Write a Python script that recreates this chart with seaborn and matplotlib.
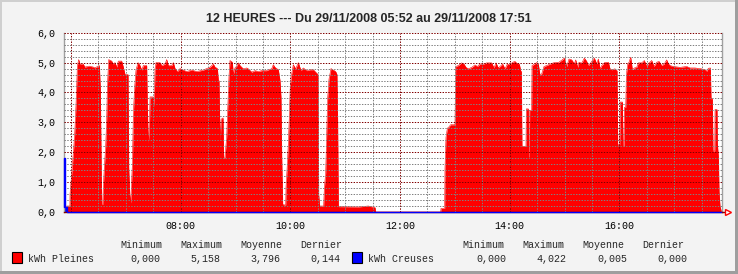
import numpy as np
import pandas as pd
import matplotlib
matplotlib.use("Agg")
import matplotlib.pyplot as plt
import seaborn as sns
from matplotlib.patches import Rectangle
from matplotlib.ticker import MultipleLocator, FixedLocator

# ---------------- data ----------------
title = "12 HEURES --- Du 29/11/2008 05:52 au 29/11/2008 17:51"
x_start, x_end = 5.872, 17.872   # hours of day

pleines_h = [
    5.872, 5.920, 5.921, 5.980, 5.982, 6.000, 6.018, 6.043, 6.067, 6.091, 6.116, 6.140, 6.164, 6.225,
    6.249, 6.334, 6.407, 6.432, 6.517, 6.535, 6.547, 6.559, 6.578, 6.590, 6.608, 6.632, 6.650, 6.663,
    6.687, 6.742, 6.772, 6.802, 6.833, 6.863, 6.924, 6.954, 6.985, 7.040, 7.052, 7.070, 7.088, 7.100,
    7.119, 7.137, 7.161, 7.185, 7.222, 7.258, 7.289, 7.319, 7.380, 7.392, 7.410, 7.429, 7.441, 7.502,
    7.514, 7.532, 7.550, 7.623, 7.653, 7.714, 7.745, 7.775, 7.836, 7.866, 7.897, 7.939, 7.988, 8.049,
    8.109, 8.201, 8.292, 8.413, 8.474, 8.535, 8.596, 8.626, 8.669, 8.687, 8.699, 8.711, 8.723, 8.736,
    8.772, 8.784, 8.802,
    8.808, 8.838, 8.857, 8.881, 8.899, 8.942, 8.960, 8.990, 9.021, 9.051, 9.082, 9.142, 9.203, 9.234,
    9.294, 9.355, 9.416, 9.477, 9.568, 9.598, 9.659, 9.689, 9.720, 9.781, 9.811, 9.829, 9.841, 9.860,
    9.915, 9.921, 9.939, 9.963, 9.981, 9.999, 10.024, 10.054, 10.097, 10.145, 10.194, 10.237, 10.297,
    10.358, 10.419, 10.461, 10.492, 10.504, 10.516, 10.534, 10.607, 10.620, 10.644, 10.662, 10.680,
    10.705, 10.741, 10.784, 10.826, 10.850, 10.863, 10.875, 11.240, 11.422, 11.544, 11.556,
    12.741, 12.747, 12.814, 12.820, 12.838, 12.863, 12.893, 12.923, 13.002, 13.015, 13.063, 13.094,
    13.124, 13.167, 13.203, 13.246, 13.306, 13.367, 13.410, 13.458, 13.519, 13.580, 13.671, 13.714,
    13.750, 13.793, 13.823, 13.872, 13.914, 13.957, 14.005, 14.054, 14.097, 14.127, 14.176, 14.200,
    14.212, 14.224, 14.297, 14.303, 14.340, 14.346, 14.358, 14.364, 14.400, 14.407, 14.492, 14.522,
    14.553, 14.583, 14.626, 14.674, 14.735, 14.796, 14.857,
    14.888, 14.949, 14.997, 15.040, 15.082, 15.131, 15.180, 15.204, 15.240, 15.265, 15.313, 15.362,
    15.405, 15.435, 15.465, 15.496, 15.544, 15.587, 15.617, 15.648, 15.678, 15.739, 15.800, 15.830,
    15.860, 15.921, 15.952, 15.958, 15.970, 16.006, 16.018, 16.055, 16.067, 16.085, 16.091, 16.116,
    16.128, 16.152, 16.176, 16.207, 16.237, 16.274, 16.316, 16.347, 16.407, 16.456, 16.499, 16.541,
    16.590, 16.632, 16.681, 16.724, 16.772, 16.821, 16.863, 16.894, 16.924, 16.985, 17.107, 17.228,
    17.289, 17.380, 17.502, 17.563, 17.593, 17.623, 17.660, 17.672, 17.696, 17.708, 17.739, 17.745,
    17.781, 17.787, 17.806, 17.818, 17.836, 17.854, 17.860,
]
pleines_kwh = [
    0.0, 0.0, 0.2, 0.2, 0.6, 1.0, 1.4, 2.0, 2.6, 3.6, 4.9, 5.1, 4.95, 4.95,
    4.85, 4.88, 4.85, 4.82, 4.9, 4.1, 2.0, 0.25, 0.25, 0.9, 1.5, 2.2, 3.1, 4.2,
    5.1, 5.05, 4.95, 5.0, 4.85, 5.05, 5.05, 4.85, 4.6, 4.6, 1.5, 0.6, 0.3, 0.8,
    1.6, 3.3, 4.2, 4.75, 5.0, 4.9, 4.75, 4.9, 4.9, 3.5, 2.3, 2.8, 3.85, 3.85,
    3.5, 4.8, 5.0, 5.0, 4.9, 4.95, 5.1, 4.9, 4.9, 5.0, 4.8, 4.7, 4.8, 4.75,
    4.7, 4.75, 4.7, 4.75, 4.8, 4.85, 4.95, 4.85, 4.8, 4.4, 4.4, 3.0, 2.4, 3.1,
    3.15, 1.8, 1.8,
    1.85, 2.5, 3.45, 4.55, 5.07, 5.01, 4.6, 4.82, 4.88, 4.99, 4.9, 4.79, 4.82, 4.79,
    4.68, 4.73, 4.7, 4.73, 4.73, 4.76, 4.79, 4.93, 4.84, 4.76, 4.4, 3.85, 2.0, 0.25,
    0.23, 0.84, 1.4, 2.29, 3.18, 4.23, 4.62, 4.93, 4.79, 5.0, 4.73, 4.82, 4.73,
    4.76, 4.76, 4.68, 4.62, 4.6, 0.6, 0.2, 0.2, 0.8, 1.3, 2.6, 3.8,
    4.45, 4.8, 4.75, 4.7, 4.6, 2.9, 0.18, 0.17, 0.2, 0.15, 0.0,
    0.0, 0.12, 0.12, 1.45, 2.5, 2.8, 2.85, 2.92, 2.92, 4.87, 4.9, 4.95,
    4.99, 4.95, 4.84, 4.79, 4.84, 4.92, 4.87, 4.95, 4.95, 4.99, 4.99, 4.82,
    4.99, 4.82, 4.87, 4.95, 4.79, 4.95, 4.93, 5.01, 5.04, 4.98, 4.95, 4.73,
    4.7, 2.2, 2.2, 3.45, 3.45, 1.85, 1.85, 3.4, 3.4, 4.9, 5.0, 4.95,
    4.57, 4.62, 4.87, 4.9, 4.95, 4.99, 5.01,
    5.0, 5.08, 5.15, 4.87, 5.12, 5.09, 4.96, 5.09, 4.84, 5.01, 4.98, 5.15,
    5.04, 4.9, 4.96, 5.04, 5.15, 4.96, 5.12, 4.79, 4.9, 5.01, 5.01, 4.79,
    4.76, 4.79, 4.73, 4.73, 2.25, 2.25, 3.68, 3.68, 2.2, 2.2, 3.5, 3.5,
    4.6, 4.95, 5.01, 5.18, 4.76, 4.82, 4.84, 4.99, 4.99, 5.07, 4.87, 4.99,
    5.07, 4.87, 5.01, 5.04, 4.9, 4.96, 5.09, 4.96, 4.9, 4.87, 4.84, 4.87,
    4.82, 4.82, 4.79, 4.76, 4.71, 4.81, 4.82, 3.79, 3.79, 2.04, 2.04, 3.43,
    3.43, 2.29, 1.84, 0.68, 0.18, 0.07, 0.0,
]

creuses_h = [5.872, 5.880, 5.895, 5.928, 17.86]
creuses_kwh = [0.18, 1.82, 0.18, 0.0, 0.0]

y_ticks = [0, 1, 2, 3, 4, 5, 6]
y_tick_labels = ["0,0", "1,0", "2,0", "3,0", "4,0", "5,0", "6,0"]
x_tick_hours = [6, 8, 10, 12, 14, 16]
x_tick_labels = ["", "08:00", "10:00", "12:00", "14:00", "16:00"]

legend_headers = ["Minimum", "Maximum", "Moyenne", "Dernier"]
series_names = ["kWh Pleines", "kWh Creuses"]
series_colors = ["#ff0000", "#0000ff"]
pleines_stats = ["0,000", "5,158", "3,796", "0,144"]
creuses_stats = ["0,000", "4,022", "0,005", "0,000"]

# ---------------- style ----------------
sns.set_style("white")
plt.rcParams["font.family"] = ["Liberation Mono", "DejaVu Sans Mono"]

W, H = 738, 274
def fx(px):
    return px / W
def fy(py):
    return 1 - py / H

fig = plt.figure(figsize=(W / 100, H / 100), dpi=100)
fig.patch.set_facecolor("#f3f3f3")

# 3D-like frame
fig.add_artist(Rectangle((0, fy(2)), 1, 2 / H, transform=fig.transFigure, color="#cfcfcf", lw=0))
fig.add_artist(Rectangle((0, 0), 2 / W, 1, transform=fig.transFigure, color="#cfcfcf", lw=0))
fig.add_artist(Rectangle((0, 0), 1, 3 / H, transform=fig.transFigure, color="#9e9e9e", lw=0))
fig.add_artist(Rectangle((1 - 3 / W, 0), 3 / W, 1, transform=fig.transFigure, color="#9e9e9e", lw=0))

ax = fig.add_axes([fx(64), fy(212), (722 - 64) / W, (212 - 32.7) / H])
ax.set_facecolor("white")

# red area
ax.fill_between(pleines_h, pleines_kwh, 0, color=series_colors[0], lw=0, zorder=1)
sns.lineplot(x=pleines_h, y=pleines_kwh, ax=ax, color=series_colors[0], lw=0.4,
             estimator=None, sort=False, zorder=1.1)
# blue area
ax.fill_between(creuses_h, creuses_kwh, 0, step="post", color=series_colors[1], lw=0, zorder=1.2)
sns.lineplot(x=creuses_h, y=creuses_kwh, ax=ax, color=series_colors[1], lw=1.0,
             estimator=None, sort=False, drawstyle="steps-post", zorder=3)
ax.lines[-1].set_clip_on(False)

ax.set_xlim(x_start, x_end)
ax.set_ylim(0, 6)
ax.set_xlabel("")
ax.set_ylabel("")

ax.yaxis.set_major_locator(FixedLocator(y_ticks))
ax.set_yticklabels(y_tick_labels)
ax.yaxis.set_minor_locator(MultipleLocator(0.2))
ax.xaxis.set_major_locator(FixedLocator(x_tick_hours))
ax.set_xticklabels(x_tick_labels)
ax.xaxis.set_minor_locator(MultipleLocator(0.5))

dots = (0, (1.39, 1.39))
ax.set_axisbelow(False)
ax.grid(which="major", color="#800000", linestyle=dots, lw=0.72)
ax.grid(which="minor", color="#808080", linestyle=dots, lw=0.72)

ax.tick_params(axis="both", which="major", direction="out", length=3, width=1,
               color="#800000", labelsize=7.2, labelcolor="black", pad=3.5)
ax.tick_params(axis="y", which="minor", direction="out", length=2, width=1, color="#8c8c8c")
ax.tick_params(axis="x", which="minor", length=0)

ax.spines["top"].set_visible(False)
ax.spines["left"].set_color("#a0a0a0")
ax.spines["right"].set_color("#a0a0a0")
ax.spines["bottom"].set_color("#800000")
for s in ["left", "right", "bottom"]:
    ax.spines[s].set_linewidth(1)

# axis arrow at right end
ax.plot([x_end, 17.97], [0, 0], color="#800000", lw=1, clip_on=False, zorder=4)
ax.plot([17.985], [0], marker=">", ms=5, mfc="white", mec="#ff0000", mew=1,
        clip_on=False, zorder=5)

# title
fig.text(fx(369), fy(19.5), title, ha="center", va="center",
         family=["Liberation Sans", "DejaVu Sans"], fontweight="bold", fontsize=9)

# legend
mono = dict(family=["Liberation Mono", "DejaVu Sans Mono"], fontsize=7.2, va="center")
header_x = [[120, 180, 240, 300], [462, 522, 582, 642]]
value_x = [[130.7, 190.7, 250.7, 310.7], [476.7, 536.7, 597.3, 657.3]]
square_x = [12.3, 352.3]
name_x = [27.7, 368.3]
stats = [pleines_stats, creuses_stats]
for i in range(2):
    for hx, txt in zip(header_x[i], legend_headers):
        fig.text(fx(hx), fy(245.5), txt, ha="left", **mono)
    for vx, txt in zip(value_x[i], stats[i]):
        fig.text(fx(vx), fy(259.5), txt, ha="left", **mono)
    fig.add_artist(Rectangle((fx(square_x[i]), fy(263.3)), 10 / W, 11 / H,
                             transform=fig.transFigure, facecolor=series_colors[i],
                             edgecolor="black", lw=0.8))
    fig.text(fx(name_x[i]), fy(259.5), series_names[i], ha="left", **mono)

fig.savefig("out.png", dpi=100, facecolor=fig.get_facecolor())
